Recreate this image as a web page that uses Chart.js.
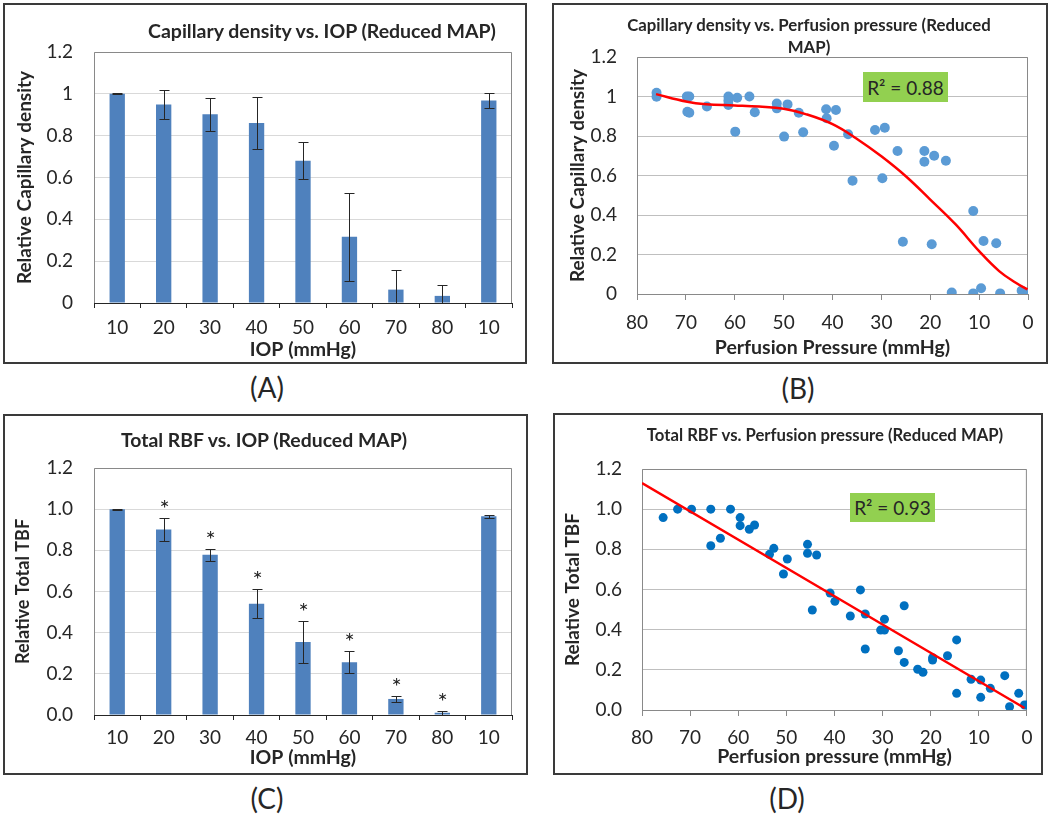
<!DOCTYPE html>
<html>
<head>
<meta charset="utf-8">
<script src="https://cdn.jsdelivr.net/npm/chart.js@4.4.1/dist/chart.umd.min.js"></script>
<style>
body { margin: 0; background: #fff; font-family: Lato, "Open Sans", sans-serif; color: #262626; }
#page { position: relative; width: 1050px; height: 815px; overflow: hidden; }
canvas, .frame, .title, .tag, .r2 { position: absolute; }
.frame { border: 2px solid #3a3a3a; box-sizing: border-box; pointer-events: none; }
.title { font-weight: bold; text-align: center; white-space: nowrap; transform: translate(-50%, -50%); }
.tag { font-size: 28px; transform: translate(-50%, -50%); }
.r2 { background: #92d050; font-size: 19px; display: flex; align-items: center; justify-content: center; }
</style>
</head>
<body>
<div id="page">
  <canvas id="chart_a" width="524" height="361" style="left:3px;top:3px"></canvas>
  <canvas id="chart_b" width="496" height="361" style="left:552px;top:3px"></canvas>
  <canvas id="chart_c" width="525" height="361" style="left:3px;top:414px"></canvas>
  <canvas id="chart_d" width="490" height="362" style="left:553px;top:413px"></canvas>

  <div class="frame" style="left:3px;top:3px;width:524px;height:361px"></div>
  <div class="frame" style="left:552px;top:3px;width:496px;height:361px"></div>
  <div class="frame" style="left:3px;top:414px;width:525px;height:361px"></div>
  <div class="frame" style="left:553px;top:413px;width:490px;height:362px"></div>

  <div class="title" style="left:322px;top:30px;font-size:19.5px">Capillary density vs. IOP (Reduced MAP)</div>
  <div class="title" style="left:809px;top:36px;font-size:16.8px;line-height:22px">Capillary density vs. Perfusion pressure (Reduced<br>MAP)</div>
  <div class="title" style="left:264px;top:439px;font-size:19.4px">Total RBF vs. IOP (Reduced MAP)</div>
  <div class="title" style="left:825px;top:435px;font-size:16.7px">Total RBF vs. Perfusion pressure (Reduced MAP)</div>

  <div class="r2" style="left:863px;top:72px;width:85px;height:30px">R² = 0.88</div>
  <div class="r2" style="left:850px;top:493px;width:85px;height:29px">R² = 0.93</div>

  <div class="tag" style="left:267px;top:387px">(A)</div>
  <div class="tag" style="left:798px;top:388px">(B)</div>
  <div class="tag" style="left:267px;top:798px">(C)</div>
  <div class="tag" style="left:787px;top:798px">(D)</div>
</div>
<script>
// ---- データ ----
const iopLabels = ['10', '20', '30', '40', '50', '60', '70', '80', '10'];

// (A) 毛細血管密度
const capDensity = [1.0, 0.949, 0.902, 0.861, 0.68, 0.317, 0.064, 0.034, 0.968];
const capDensityErr = [0.002, 0.07, 0.08, 0.123, 0.088, 0.21, 0.094, 0.054, 0.037];
const yTicksA = ['0', '0.2', '0.4', '0.6', '0.8', '1', '1.2'];

// (C) 総血流量
const totalTbf = [1.0, 0.901, 0.778, 0.54, 0.355, 0.256, 0.078, 0.011, 0.966];
const totalTbfErr = [0.002, 0.054, 0.03, 0.071, 0.1, 0.053, 0.015, 0.01, 0.008];
const tbfSignificant = [false, true, true, true, true, true, true, true, false];
const yTicksC = ['0.0', '0.2', '0.4', '0.6', '0.8', '1.0', '1.2'];

// (B) 灌流圧 vs 毛細血管密度
const capPressure = [76.0, 76.0, 69.8, 69.3, 69.7, 69.3, 65.7, 61.3, 61.3, 61.3, 59.5, 59.9, 57.0, 55.9, 51.4, 51.4,
    49.2, 49.9, 46.9, 46.0, 41.3, 41.2, 39.3, 39.7, 36.8, 35.9, 31.3, 29.3, 29.8, 26.7, 25.6, 21.2, 21.2, 19.2, 19.7,
    16.8, 15.6, 11.2, 11.2, 9.6, 9.1, 6.5, 5.7, 1.3, 0.8, 0.0];
const capRelDensity = [1.019, 0.999, 1.0, 1.0, 0.923, 0.918, 0.949, 1.0, 0.979, 0.957, 0.994, 0.822, 1.0, 0.92, 0.965, 0.94,
    0.96, 0.797, 0.918, 0.819, 0.935, 0.89, 0.932, 0.751, 0.809, 0.574, 0.83, 0.842, 0.586, 0.724, 0.265, 0.724, 0.67, 0.7, 0.252,
    0.675, 0.007, 0.42, 0.003, 0.029, 0.268, 0.257, 0.003, 0.017, 0.0, 0.0];
// 近似曲線（図から読み取った点）
const capFitPressure = [76.1, 70, 65.9, 60, 55, 50, 45.5, 40, 35.2, 30, 25, 20, 14.8, 10, 5.9, 2.5, 0.1];
const capFitValues = [1.012, 0.975, 0.961, 0.955, 0.949, 0.938, 0.911, 0.86, 0.789, 0.697, 0.596, 0.478, 0.352, 0.217, 0.116, 0.057, 0.023];

// (D) 灌流圧 vs 総血流量
const tbfPressure = [75.6, 72.6, 69.7, 65.7, 65.7, 63.7, 61.6, 59.6, 59.6, 57.7, 56.6, 53.5, 52.6, 50.6, 49.8, 45.6,
    45.6, 43.7, 44.6, 40.9, 39.9, 36.7, 34.6, 33.6, 33.6, 30.4, 29.6, 29.6, 26.7, 25.5, 25.5, 22.7, 21.6, 19.6, 19.6,
    16.5, 14.6, 14.6, 11.6, 9.6, 9.6, 7.6, 4.6, 3.6, 1.7, 0.5, 0.0];
const tbfRelFlow = [0.958, 1.0, 1.0, 1.0, 0.818, 0.855, 1.0, 0.958, 0.918, 0.9, 0.921, 0.775, 0.805, 0.677, 0.752, 0.825,
    0.78, 0.772, 0.498, 0.582, 0.541, 0.468, 0.598, 0.478, 0.304, 0.398, 0.452, 0.398, 0.295, 0.519, 0.237, 0.203, 0.188, 0.26, 0.249,
    0.27, 0.349, 0.083, 0.153, 0.149, 0.063, 0.108, 0.171, 0.016, 0.083, 0.025, 0.025];
const tbfFitPressure = [80, 0.5];
const tbfFitValues = [1.13, 0.01];

Chart.defaults.font.family = 'Lato, "Open Sans", sans-serif';
Chart.defaults.color = '#262626';

const TEXT = '#262626';
const BAR_COLOR = '#4f81bd';

// プロットエリアの枠（左・上・右）
const plotFramePlugin = {
    id: 'plotFrame',
    beforeDatasetsDraw(chart, args, opts) {
        const {left, top, right, bottom} = chart.chartArea;
        const ctx = chart.ctx;
        ctx.save();
        ctx.strokeStyle = opts.color || '#898989';
        ctx.lineWidth = 1;
        ctx.beginPath();
        ctx.moveTo(left + 0.5, bottom);
        ctx.lineTo(left + 0.5, top + 0.5);
        ctx.lineTo(right - 0.5, top + 0.5);
        ctx.lineTo(right - 0.5, bottom);
        ctx.stroke();
        ctx.restore();
    }
};

// エラーバーと有意差マーク
const errorBarPlugin = {
    id: 'errorBars',
    afterDatasetsDraw(chart, args, opts) {
        const ctx = chart.ctx;
        const yScale = chart.scales.y;
        const values = chart.data.datasets[0].data;
        const meta = chart.getDatasetMeta(0);
        ctx.save();
        ctx.strokeStyle = TEXT;
        ctx.fillStyle = TEXT;
        ctx.lineWidth = 1;
        meta.data.forEach(function(bar, i) {
            const v = values[i];
            const e = opts.errors[i];
            const yTop = Math.round(yScale.getPixelForValue(v + e)) + 0.5;
            const yBot = Math.round(yScale.getPixelForValue(Math.max(0, v - e))) + 0.5;
            const x = Math.round(bar.x) + 0.5;
            ctx.beginPath();
            ctx.moveTo(x, yTop); ctx.lineTo(x, yBot);
            ctx.moveTo(x - 5, yTop); ctx.lineTo(x + 5, yTop);
            if (v - e > 0) { ctx.moveTo(x - 5, yBot); ctx.lineTo(x + 5, yBot); }
            ctx.stroke();
            if (opts.stars && opts.stars[i]) {
                ctx.font = '24px Lato, sans-serif';
                ctx.textAlign = 'center';
                ctx.textBaseline = 'alphabetic';
                ctx.fillText('*', x, yTop - 2);
            }
        });
        ctx.restore();
    }
};

function createBarChart(canvasId, values, errors, stars, yTickLabels, yTitle, lay) {
    const ctx = document.getElementById(canvasId).getContext('2d');
    return new Chart(ctx, {
        type: 'bar',
        data: {
            labels: iopLabels,
            datasets: [{
                data: values,
                backgroundColor: BAR_COLOR,
                barPercentage: 0.33,
                categoryPercentage: 1
            }]
        },
        options: {
            responsive: false,
            animation: false,
            layout: {padding: {top: lay.top, right: lay.right, left: 0, bottom: 0}},
            plugins: {
                legend: {display: false},
                tooltip: {enabled: false},
                plotFrame: {color: '#898989'},
                errorBars: {errors: errors, stars: stars}
            },
            scales: {
                x: {
                    offset: true,
                    grid: {drawOnChartArea: false, drawTicks: true, tickLength: 5, offset: true, color: TEXT},
                    border: {color: TEXT, width: 1},
                    ticks: {padding: lay.xPad, maxRotation: 0, autoSkip: false, color: TEXT, font: {size: 19}},
                    title: {display: true, text: 'IOP (mmHg)', color: TEXT, font: {size: 19.5, weight: 'bold'},
                        padding: {top: 0, bottom: lay.xTitlePad}},
                    afterFit: function(scale) { scale.height = lay.xHeight; }
                },
                y: {
                    min: 0,
                    max: 1.2,
                    grid: {color: '#d9d9d9', drawTicks: false},
                    border: {display: false},
                    ticks: {
                        stepSize: 0.2, padding: lay.yPad, color: TEXT, font: {size: 19},
                        callback: function(value, index) { return yTickLabels[index]; }
                    },
                    title: {display: true, text: yTitle, color: TEXT, font: {size: lay.yTitleSize, weight: 'bold'},
                        padding: {top: lay.yTitlePad, bottom: 0}},
                    afterFit: function(scale) { scale.width = lay.yWidth; }
                }
            }
        },
        plugins: [plotFramePlugin, errorBarPlugin]
    });
}

function createScatterChart(canvasId, xs, ys, fitXs, fitYs, pointColor, pointRadius, xTitle, yTitle, yTickLabels, lay) {
    const ctx = document.getElementById(canvasId).getContext('2d');
    const points = xs.map(function(x, i) { return {x: x, y: ys[i]}; });
    const fit = fitXs.map(function(x, i) { return {x: x, y: fitYs[i]}; });
    return new Chart(ctx, {
        type: 'scatter',
        data: {
            datasets: [
                {
                    data: fit,
                    showLine: true,
                    borderColor: '#ff0000',
                    borderWidth: 2.5,
                    pointRadius: 0,
                    tension: 0.4,
                    order: 0
                },
                {
                    data: points,
                    backgroundColor: pointColor,
                    borderWidth: 0,
                    pointRadius: pointRadius,
                    order: 1
                }
            ]
        },
        options: {
            responsive: false,
            animation: false,
            layout: {padding: {top: lay.top, right: lay.right, left: 0, bottom: 0}},
            plugins: {
                legend: {display: false},
                tooltip: {enabled: false},
                plotFrame: {color: '#898989'}
            },
            scales: {
                x: {
                    type: 'linear',
                    min: 0,
                    max: 80,
                    reverse: true,
                    grid: {drawOnChartArea: false, drawTicks: true, tickLength: 6, color: '#898989'},
                    border: {color: '#898989', width: 1},
                    ticks: {stepSize: 10, padding: lay.xPad, maxRotation: 0, color: TEXT, font: {size: 19}},
                    title: {display: true, text: xTitle, color: TEXT, font: {size: 19.5, weight: 'bold'},
                        padding: {top: 0, bottom: lay.xTitlePad}},
                    afterFit: function(scale) { scale.height = lay.xHeight; }
                },
                y: {
                    min: 0,
                    max: 1.2,
                    grid: {color: '#bfbfbf', drawTicks: false},
                    border: {display: false},
                    ticks: {
                        stepSize: 0.2, padding: lay.yPad, color: TEXT, font: {size: 19},
                        callback: function(value, index) { return yTickLabels[index]; }
                    },
                    title: {display: true, text: yTitle, color: TEXT, font: {size: lay.yTitleSize, weight: 'bold'},
                        padding: {top: lay.yTitlePad, bottom: 0}},
                    afterFit: function(scale) { scale.width = lay.yWidth; }
                }
            }
        },
        plugins: [plotFramePlugin]
    });
}

createBarChart('chart_a', capDensity, capDensityErr, null, yTicksA, 'Relative Capillary density',
    {top: 49, right: 15, yWidth: 91, xHeight: 61, yPad: 21, yTitlePad: 10.6, yTitleSize: 19, xPad: 8.6, xTitlePad: 2.3});

createBarChart('chart_c', totalTbf, totalTbfErr, tbfSignificant, yTicksC, 'Relative Total TBF',
    {top: 54, right: 16, yWidth: 91, xHeight: 60, yPad: 21, yTitlePad: 9.2, yTitleSize: 18, xPad: 6.6, xTitlePad: 5.3});

createScatterChart('chart_b', capPressure, capRelDensity, capFitPressure, capFitValues, '#5b9bd5', 5,
    'Perfusion Pressure (mmHg)', 'Relative Capillary density', yTicksA,
    {top: 54, right: 20, yWidth: 85, xHeight: 70, yPad: 20, yTitlePad: 14.6, yTitleSize: 19, xPad: 11.6, xTitlePad: 4.3});

createScatterChart('chart_d', tbfPressure, tbfRelFlow, tbfFitPressure, tbfFitValues, '#0070c0', 4.5,
    'Perfusion pressure (mmHg)', 'Relative Total TBF', yTicksC,
    {top: 56, right: 14, yWidth: 89, xHeight: 65, yPad: 20, yTitlePad: 8.6, yTitleSize: 19, xPad: 10.6, xTitlePad: 6.3});
</script>
</body>
</html>
